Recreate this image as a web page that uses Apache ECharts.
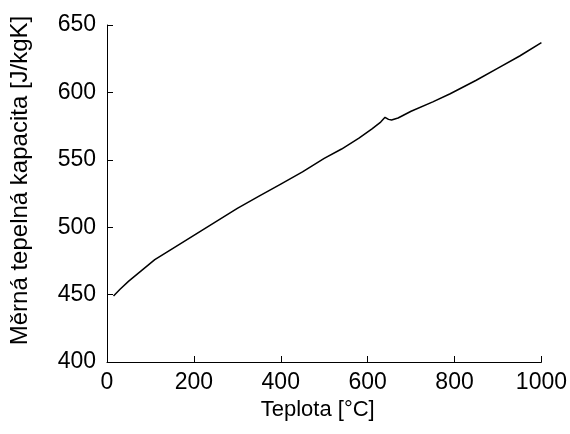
<!DOCTYPE html>
<html>
<head>
<meta charset="utf-8">
<script src="https://cdn.jsdelivr.net/npm/echarts@6/dist/echarts.min.js"></script>
<style>html,body{margin:0;padding:0;background:#fff;}#c{width:570px;height:434px;}</style>
</head>
<body>
<div id="c"></div>
<script>
const temperature = [15, 30, 50, 80, 110, 150, 200, 250, 300, 350, 400, 450, 500, 540, 580, 610, 630, 640, 648, 655, 670, 700, 750, 790, 850, 900, 950, 1000];
const capacity = [449, 454, 460, 468, 476, 484, 494, 504, 514, 523, 532, 541, 551, 558, 566, 573, 578, 581.5, 580, 579.5, 581, 586, 593, 599, 609, 618, 627, 637];
const xTicks = [0, 200, 400, 600, 800, 1000];
const yTicks = [400, 450, 500, 550, 600, 650];

const chart = echarts.init(document.getElementById('c'), null, {renderer: 'canvas'});
const font = 'Liberation Sans, Arial, sans-serif';
chart.setOption({
  animation: false,
  backgroundColor: '#fff',
  grid: {left: 107, right: 28, top: 25, bottom: 72, containLabel: false},
  xAxis: {
    type: 'value', min: xTicks[0], max: xTicks[xTicks.length - 1], interval: xTicks[1] - xTicks[0],
    name: 'Teplota [°C]', nameLocation: 'middle', nameGap: 36,
    nameTextStyle: {color: '#000', fontSize: 22, fontFamily: font, padding: [0, 13, 0, 0]},
    axisLine: {show: true, onZero: false, lineStyle: {color: '#000', width: 1}},
    axisTick: {show: true, inside: true, length: 6, lineStyle: {color: '#000'}},
    axisLabel: {color: '#000', fontSize: 23, fontFamily: font, margin: 9, formatter: v => String(v)},
    splitLine: {show: false}
  },
  yAxis: {
    type: 'value', min: yTicks[0], max: yTicks[yTicks.length - 1], interval: yTicks[1] - yTicks[0],
    name: 'Měrná tepelná kapacita [J/kgK]', nameLocation: 'middle', nameGap: 75, nameRotate: 90,
    nameTextStyle: {color: '#000', fontSize: 24, fontFamily: font, padding: [0, 0, 0, 26]},
    axisLine: {show: true, onZero: false, lineStyle: {color: '#000', width: 1}},
    axisTick: {show: true, inside: true, length: 6, lineStyle: {color: '#000'}},
    axisLabel: {color: '#000', fontSize: 23, fontFamily: font, margin: 11, formatter: v => String(v)},
    splitLine: {show: false}
  },
  series: [{
    type: 'line',
    data: temperature.map((t, i) => [t, capacity[i]]),
    showSymbol: false,
    lineStyle: {color: '#000', width: 1.5},
    smooth: false
  }]
});
</script>
</body>
</html>
